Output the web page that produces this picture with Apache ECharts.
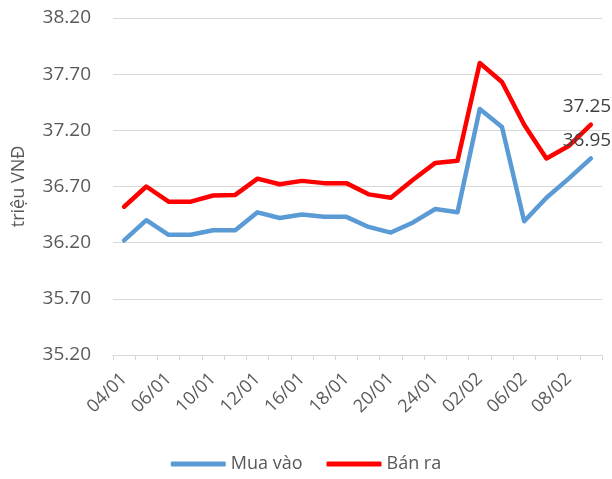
<!DOCTYPE html>
<html><head><meta charset="utf-8">
<script src="https://cdn.jsdelivr.net/npm/echarts@6/dist/echarts.min.js"></script>
<style>html,body{margin:0;padding:0;background:#fff}#c{width:612px;height:479px}</style>
</head><body><div id="c"></div>
<script>
const categories = ['04/01','05/01','06/01','09/01','10/01','11/01','12/01','13/01','16/01','17/01','18/01','19/01','20/01','23/01','24/01','25/01','02/02','03/02','06/02','07/02','08/02','09/02'];
const muaVao = [36.22,36.40,36.27,36.27,36.31,36.31,36.47,36.42,36.45,36.43,36.43,36.34,36.29,36.38,36.50,36.47,37.39,37.23,36.39,36.60,36.77,36.95];
const banRa = [36.52,36.70,36.565,36.565,36.62,36.625,36.77,36.72,36.75,36.73,36.73,36.63,36.60,36.76,36.91,36.93,37.80,37.63,37.25,36.95,37.06,37.25];
const yTicks = { min: 35.2, max: 38.2, step: 0.5 };

const FONT = '"Open Sans", "Noto Sans", sans-serif';
const TXT = '#595959';
function withLastLabel(arr) {
  return arr.map((v, i) => i === arr.length - 1
    ? { value: v, label: { show: true, position: 'top', offset: [-4, -3], formatter: (p) => p.value.toFixed(2), fontSize: 19, color: '#404040', fontFamily: FONT } }
    : v);
}
const chart = echarts.init(document.getElementById('c'), null, { renderer: 'canvas' });
chart.setOption({
  animation: false,
  grid: { left: 113, right: 10, top: 18, bottom: 124 },
  legend: {
    top: 455, left: 'center', padding: 0, itemWidth: 55, itemHeight: 5, itemGap: 24, icon: 'roundRect',
    textStyle: { fontSize: 18, color: TXT, fontFamily: FONT },
    data: ['Mua vào', 'Bán ra']
  },
  xAxis: {
    type: 'category', data: categories, boundaryGap: true,
    axisLine: { lineStyle: { color: '#D9D9D9', width: 1 } },
    axisTick: { show: true, length: 5, lineStyle: { color: '#D9D9D9' }, interval: 0 },
    axisLabel: { interval: 1, rotate: 45, fontSize: 18, color: TXT, fontFamily: FONT, margin: 21 }
  },
  yAxis: {
    type: 'value', min: yTicks.min, max: yTicks.max, interval: yTicks.step,
    name: 'triệu VNĐ', nameLocation: 'middle', nameRotate: 90, nameGap: 85,
    nameTextStyle: { fontSize: 18, color: TXT, fontFamily: FONT },
    axisLine: { show: false }, axisTick: { show: false },
    splitLine: { lineStyle: { color: '#D9D9D9', width: 1 } },
    axisLabel: { formatter: (v) => v.toFixed(2), fontSize: 19, color: TXT, fontFamily: FONT, margin: 22 }
  },
  series: [
    { name: 'Mua vào', type: 'line', data: withLastLabel(muaVao), showSymbol: true, symbol: 'circle', symbolSize: 1,
      lineStyle: { color: '#5B9BD5', width: 4.5, join: 'round', cap: 'round' }, itemStyle: { color: '#5B9BD5' } },
    { name: 'Bán ra', type: 'line', data: withLastLabel(banRa), showSymbol: true, symbol: 'circle', symbolSize: 1,
      lineStyle: { color: '#FF0000', width: 4.5, join: 'round', cap: 'round' }, itemStyle: { color: '#FF0000' } }
  ]
});
</script></body></html>
